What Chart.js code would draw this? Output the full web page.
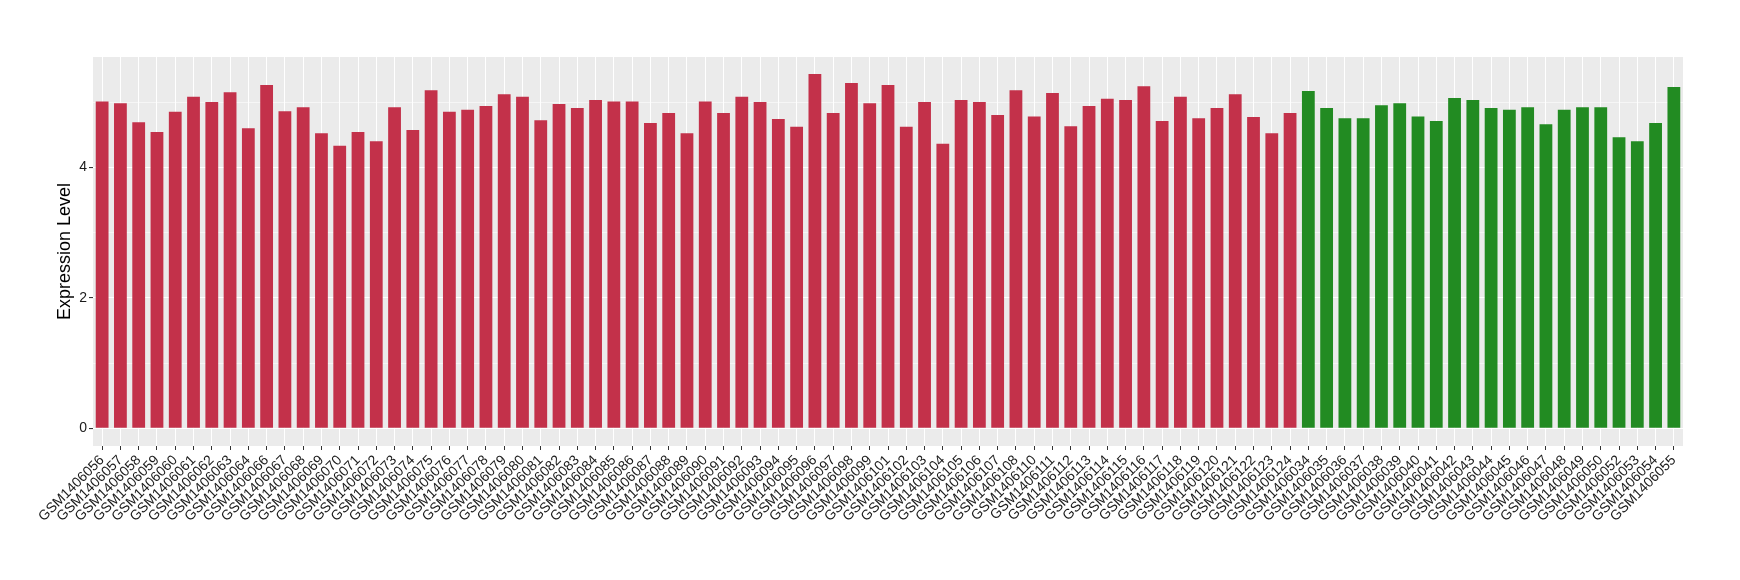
<!DOCTYPE html>
<html lang="en">
<head>
  <meta charset="UTF-8" />
  <title>Expression Level</title>
  <script src="https://cdn.jsdelivr.net/npm/chart.js"></script>
  <style>
    body { margin: 0; background: #fff; }
    #chart { display: block; }
  </style>
</head>
<body>
  <canvas id="chart" width="1740" height="580"></canvas>

  <script>
    const redSamples = [
      'GSM1406056', 'GSM1406057', 'GSM1406058', 'GSM1406059', 'GSM1406060', 'GSM1406061',
      'GSM1406062', 'GSM1406063', 'GSM1406064', 'GSM1406066', 'GSM1406067', 'GSM1406068',
      'GSM1406069', 'GSM1406070', 'GSM1406071', 'GSM1406072', 'GSM1406073', 'GSM1406074',
      'GSM1406075', 'GSM1406076', 'GSM1406077', 'GSM1406078', 'GSM1406079', 'GSM1406080',
      'GSM1406081', 'GSM1406082', 'GSM1406083', 'GSM1406084', 'GSM1406085', 'GSM1406086',
      'GSM1406087', 'GSM1406088', 'GSM1406089', 'GSM1406090', 'GSM1406091', 'GSM1406092',
      'GSM1406093', 'GSM1406094', 'GSM1406095', 'GSM1406096', 'GSM1406097', 'GSM1406098',
      'GSM1406099', 'GSM1406101', 'GSM1406102', 'GSM1406103', 'GSM1406104', 'GSM1406105',
      'GSM1406106', 'GSM1406107', 'GSM1406108', 'GSM1406110', 'GSM1406111', 'GSM1406112',
      'GSM1406113', 'GSM1406114', 'GSM1406115', 'GSM1406116', 'GSM1406117', 'GSM1406118',
      'GSM1406119', 'GSM1406120', 'GSM1406121', 'GSM1406122', 'GSM1406123', 'GSM1406124'
    ];
    const redValues = [
      5.01, 4.98, 4.69, 4.54, 4.85, 5.08, 5.00, 5.15, 4.60, 5.26, 4.86, 4.92,
      4.52, 4.33, 4.54, 4.40, 4.92, 4.57, 5.18, 4.85, 4.88, 4.94, 5.12, 5.08,
      4.72, 4.97, 4.91, 5.03, 5.01, 5.01, 4.68, 4.83, 4.52, 5.01, 4.83, 5.08,
      5.00, 4.74, 4.62, 5.43, 4.83, 5.29, 4.98, 5.26, 4.62, 5.00, 4.36, 5.03,
      5.00, 4.80, 5.18, 4.78, 5.14, 4.63, 4.94, 5.05, 5.03, 5.24, 4.71, 5.08,
      4.75, 4.91, 5.12, 4.77, 4.52, 4.83
    ];
    const greenSamples = [
      'GSM1406034', 'GSM1406035', 'GSM1406036', 'GSM1406037', 'GSM1406038', 'GSM1406039',
      'GSM1406040', 'GSM1406041', 'GSM1406042', 'GSM1406043', 'GSM1406044', 'GSM1406045',
      'GSM1406046', 'GSM1406047', 'GSM1406048', 'GSM1406049', 'GSM1406050', 'GSM1406052',
      'GSM1406053', 'GSM1406054', 'GSM1406055'
    ];
    const greenValues = [
      5.17, 4.91, 4.75, 4.75, 4.95, 4.98, 4.78, 4.71, 5.06, 5.03, 4.91, 4.88,
      4.92, 4.66, 4.88, 4.92, 4.92, 4.46, 4.40, 4.68, 5.23
    ];
    const yTicks = [0, 1, 2, 3, 4, 5];

    const labels = redSamples.concat(greenSamples);
    const values = redValues.concat(greenValues);
    const colors = redValues.map(() => '#C3314A').concat(greenValues.map(() => '#228B22'));

    const font = 'Liberation Sans, Arial, sans-serif';

    // grey panel behind the bars
    const panelBg = {
      id: 'panelBg',
      beforeDraw(chart) {
        const a = chart.chartArea;
        const c = chart.ctx;
        c.save();
        c.fillStyle = '#EBEBEB';
        c.fillRect(a.left, a.top, a.right - a.left, a.bottom - a.top);
        c.restore();
      }
    };

    new Chart(document.getElementById('chart').getContext('2d'), {
      type: 'bar',
      data: {
        labels: labels,
        datasets: [{
          data: values,
          backgroundColor: colors,
          borderWidth: 0,
          categoryPercentage: 1,
          barPercentage: 0.7
        }]
      },
      options: {
        responsive: false,
        animation: false,
        layout: { padding: { left: 44, top: 57, right: 57, bottom: 0 } },
        plugins: { legend: { display: false }, tooltip: { enabled: false } },
        scales: {
          x: {
            border: { display: false },
            grid: {
              offset: false,
              color: '#FFFFFF',
              lineWidth: 1,
              tickLength: 4,
              tickColor: '#333333'
            },
            ticks: {
              autoSkip: false,
              minRotation: 45,
              maxRotation: 45,
              padding: 2,
              color: '#1A1A1A',
              font: { family: font, size: 14 }
            },
            afterFit(scale) { scale.height = 134; }
          },
          y: {
            min: -0.271,
            max: 5.69,
            border: { display: false },
            afterBuildTicks(scale) { scale.ticks = yTicks.map(v => ({ value: v })); },
            grid: {
              color: '#FFFFFF',
              lineWidth: ctx => (ctx.tick && ctx.tick.value % 2 === 0 ? 1.1 : 0.55),
              tickLength: 4,
              tickColor: ctx => (ctx.tick && ctx.tick.value % 2 === 0 ? '#333333' : 'rgba(0,0,0,0)')
            },
            ticks: {
              padding: 2,
              color: '#1A1A1A',
              font: { family: font, size: 14 },
              callback: v => (v % 2 === 0 ? String(v) : '')
            },
            title: {
              display: true,
              text: 'Expression Level',
              color: '#000000',
              padding: { top: 10, bottom: 0 },
              font: { family: font, size: 18 }
            },
            afterFit(scale) { scale.width = 49; }
          }
        }
      },
      plugins: [panelBg]
    });
  </script>
</body>
</html>
